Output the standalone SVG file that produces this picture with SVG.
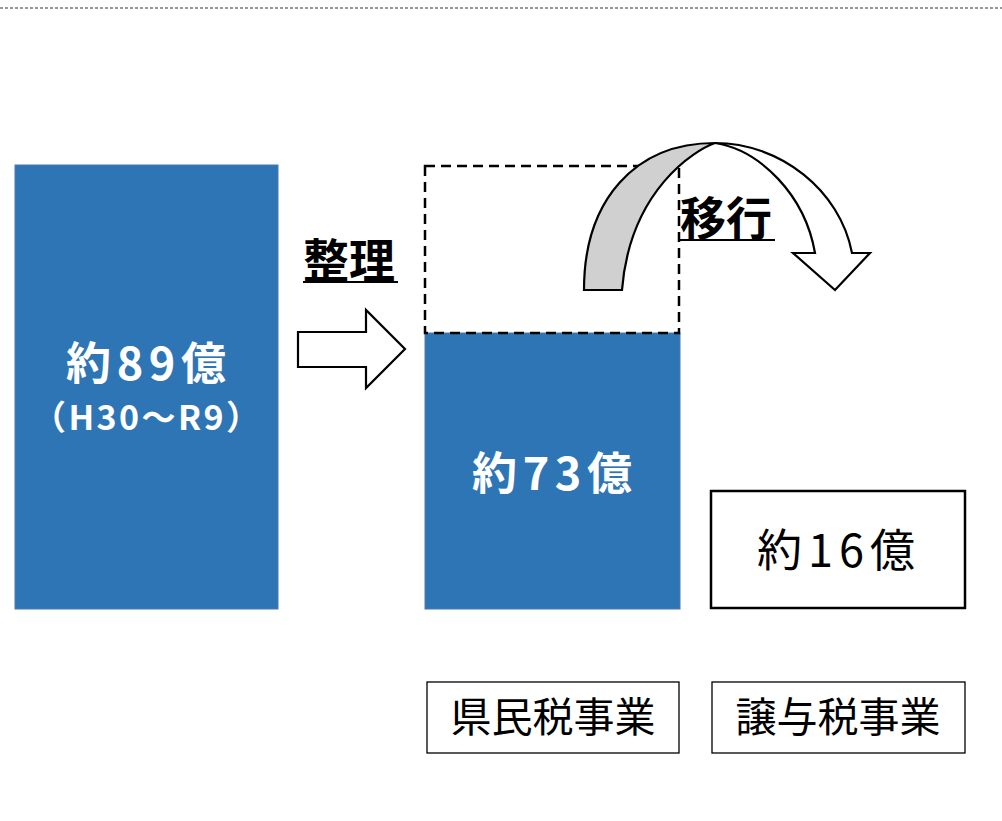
<svg xmlns="http://www.w3.org/2000/svg" width="1002" height="821" viewBox="0 0 1002 821">
<style>
.blue{fill:#2E75B6;stroke:#4F7BA8;stroke-width:1}
.box{fill:#fff;stroke:#000;stroke-width:1.3}
.wt{font-family:"Noto Sans CJK JP","Noto Sans",sans-serif;font-weight:bold;fill:#fff;text-anchor:middle}
.bt{font-family:"Noto Sans CJK JP","Noto Sans",sans-serif;fill:#000;text-anchor:middle}
.hd{font-family:"Noto Sans CJK JP","Noto Sans",sans-serif;font-weight:bold;fill:#000;font-size:46px}
.ul{stroke:#000;stroke-width:2}
.ol{stroke:#000;stroke-width:2.2;stroke-linejoin:miter}
</style>
<rect width="1002" height="821" fill="#fff"/>
<line x1="0" y1="8" x2="1002" y2="8" stroke="#333" stroke-width="1" stroke-dasharray="3 2"/>
<g id="total">
<rect class="blue" x="15" y="165" width="263" height="444"/>
<text class="wt" x="146" y="380" font-size="45" textLength="160">約89億</text>
<text class="wt" x="146" y="430" font-size="34" textLength="228">（H30〜R9）</text>
</g>
<g id="seiri">
<text class="hd" x="303" y="277">整理</text>
<line class="ul" x1="303" y1="282" x2="398" y2="282"/>
<polygon class="ol" fill="#fff" points="298,332 366,332 366,310 405,349 366,388 366,367 298,367"/>
</g>
<g id="kenmin">
<rect class="blue" x="425" y="333" width="255" height="276"/>
<rect x="425" y="166" width="254" height="167" fill="none" stroke="#000" stroke-width="2.5" stroke-dasharray="10 6"/>
<text class="wt" x="552" y="490" font-size="45" textLength="160">約73億</text>
</g>
<g id="connectors">
<path class="ol" fill="#D0D0D0" d="M584,290 C584,200 635,143 715,143 C695,150 630,190 622,290 Z"/>
<path class="ol" fill="#fff" d="M715,143 C780,143 840,190 852,253 L870,253 L835,290 L793,253 L815,253 C805,195 760,150 715,143 Z"/>
</g>
<g id="ikou">
<text class="hd" x="680" y="235">移行</text>
<line class="ul" x1="680" y1="240" x2="775" y2="240"/>
</g>
<g id="jouyo">
<rect x="711" y="491" width="254" height="117" fill="#fff" stroke="#000" stroke-width="2.5"/>
<text class="bt" x="836" y="567" font-size="45" textLength="158">約16億</text>
</g>
<g id="label-kenmin">
<rect class="box" x="427" y="682" width="252" height="71"/>
<text class="bt" x="553" y="732" font-size="41">県民税事業</text>
</g>
<g id="label-jouyo">
<rect class="box" x="712" y="682" width="253" height="71"/>
<text class="bt" x="838" y="732" font-size="41">譲与税事業</text>
</g>
</svg>
